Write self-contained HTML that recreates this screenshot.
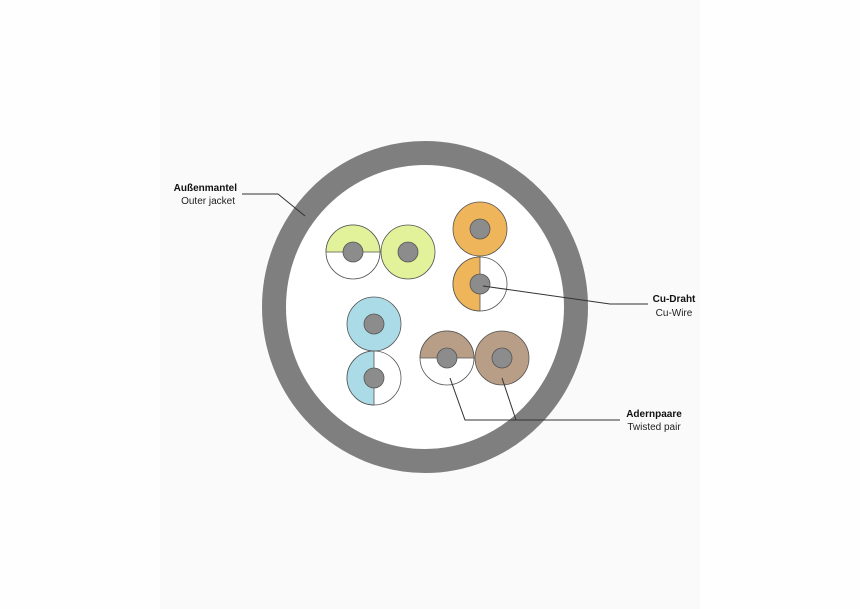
<!DOCTYPE html>
<html><head><meta charset="utf-8"><style>
html,body{margin:0;padding:0;background:#fff;}
svg{display:block}
text{font-family:"Liberation Sans",sans-serif;font-size:10px;fill:#222}
.b{font-weight:bold;fill:#111}
</style></head><body>
<svg width="860" height="609" viewBox="0 0 860 609">
<rect x="0" y="0" width="860" height="609" fill="#fefefe"/>
<rect x="160" y="0" width="540" height="609" fill="#fafafa"/>
<ellipse cx="425" cy="307" rx="151" ry="154" fill="#fff" stroke="#7f7f7f" stroke-width="24"/>
<g stroke="#555" stroke-width="0.8">
<!-- green -->
<circle cx="353" cy="252" r="27" fill="#fff"/>
<path d="M326 252 A27 27 0 0 1 380 252 Z" fill="#e2f29b"/>
<circle cx="353" cy="252" r="10" fill="#8c8c8c"/>
<circle cx="408" cy="252" r="27" fill="#e2f29b"/>
<circle cx="408" cy="252" r="10" fill="#8c8c8c"/>
<!-- orange -->
<circle cx="480" cy="229" r="27" fill="#efb55a"/>
<circle cx="480" cy="229" r="10" fill="#8c8c8c"/>
<circle cx="480" cy="284" r="27" fill="#fff"/>
<path d="M480 257 A27 27 0 0 0 480 311 Z" fill="#efb55a"/>
<circle cx="480" cy="284" r="10" fill="#8c8c8c"/>
<!-- blue -->
<circle cx="374" cy="324" r="27" fill="#acdbe8"/>
<circle cx="374" cy="324" r="10" fill="#8c8c8c"/>
<circle cx="374" cy="378" r="27" fill="#fff"/>
<path d="M374 351 A27 27 0 0 0 374 405 Z" fill="#acdbe8"/>
<circle cx="374" cy="378" r="10" fill="#8c8c8c"/>
<!-- brown -->
<circle cx="447" cy="358" r="27" fill="#fff"/>
<path d="M420 358 A27 27 0 0 1 474 358 Z" fill="#b89e86"/>
<circle cx="447" cy="358" r="10" fill="#8c8c8c"/>
<circle cx="502" cy="358" r="27" fill="#b89e86"/>
<circle cx="502" cy="358" r="10" fill="#8c8c8c"/>
</g>
<g stroke="#333" stroke-width="1" fill="none">
<polyline points="242,194 278,194 305,216"/>
<polyline points="483,286 610,304 648,304"/>
<polyline points="450,378 465,420 620,420"/>
<line x1="502" y1="378" x2="516" y2="420"/>
</g>
<text class="b" x="237" y="191" text-anchor="end">Außenmantel</text>
<text x="235" y="204" text-anchor="end">Outer jacket</text>
<text class="b" x="674" y="302" text-anchor="middle">Cu-Draht</text>
<text x="674" y="316" text-anchor="middle">Cu-Wire</text>
<text class="b" x="654" y="417" text-anchor="middle">Adernpaare</text>
<text x="654" y="430" text-anchor="middle">Twisted pair</text>
</svg>
</body></html>
